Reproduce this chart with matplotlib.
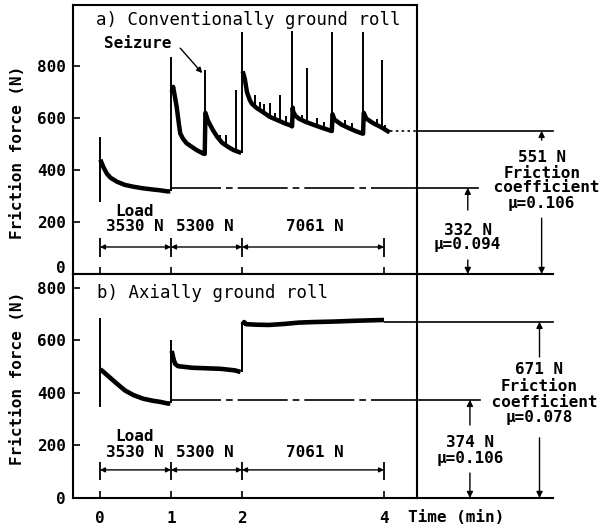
import numpy as np
import matplotlib.pyplot as plt
from matplotlib.transforms import ScaledTranslation

nan = np.nan

# a) conventionally ground roll - smooth part of the friction trace (time min, force N)
# nan separates the three load stages
t_a = [0.005, 0.05, 0.1, 0.15, 0.24, 0.35, 0.47, 0.6, 0.75, 0.85, 0.95, 0.99, nan,
       1.01, 1.03, 1.05, 1.08, 1.11, 1.13, 1.17, 1.22, 1.3, 1.36, 1.45, 1.475,
       1.485, 1.52, 1.59, 1.65, 1.72, 1.8, 1.88, 1.95, 1.99, nan,
       2.01, 2.02, 2.04, 2.07, 2.11, 2.14, 2.2, 2.25, 2.3, 2.39, 2.44, 2.5, 2.6, 2.7, 2.705,
       2.715, 2.72, 2.75, 2.8, 2.9, 3.0, 3.1, 3.2, 3.265, 3.275, 3.3, 3.4, 3.5, 3.6, 3.7, 3.705,
       3.715, 3.75, 3.85, 3.96, 4.05, 4.08]
f_a = [440, 410, 385, 370, 355, 343, 336, 330, 325, 322, 318, 318, nan,
       700, 720, 690, 643, 580, 541, 520, 503, 488, 477, 464, 462,
       620, 590, 554, 528, 505, 490, 477, 470, 466, nan,
       780, 770, 750, 700, 669, 655, 640, 631, 622, 605, 599, 592, 580, 570, 568,
       640, 625, 610, 598, 585, 575, 565, 556, 550, 615, 595, 575, 562, 550, 540, 540,
       620, 598, 580, 565, 550, 545]

# spikes: time, lower end, upper end (N)
spike_t_a = [0.0, 1.0, 1.48, 1.69, 1.78, 1.92, 2.0, 2.18, 2.25, 2.31, 2.40, 2.47, 2.54,
             2.62, 2.71, 2.85, 2.91, 3.05, 3.15, 3.27, 3.45, 3.55, 3.71, 3.9, 3.97, 4.02]
spike_lo_a = [277, 318, 462, 505, 490, 470, 465, 645, 631, 620, 603, 595, 586,
              580, 568, 588, 583, 572, 560, 550, 568, 557, 540, 572, 562, 552]
spike_hi_a = [527, 836, 785, 535, 535, 708, 932, 690, 660, 655, 657, 620, 688,
              608, 936, 612, 791, 600, 585, 932, 592, 580, 932, 597, 823, 575]

# b) axially ground roll
t_b = [0.005, 0.05, 0.1, 0.24, 0.35, 0.47, 0.61, 0.75, 0.85, 0.95, 0.99, nan,
       1.01, 1.02, 1.04, 1.06, 1.1, 1.3, 1.5, 1.7, 1.9, 1.98, nan,
       2.01, 2.03, 2.06, 2.2, 2.38, 2.6, 2.8, 3.0, 3.3, 3.6, 4.0]
f_b = [490, 480, 468, 435, 410, 392, 378, 370, 366, 360, 360, nan,
       560, 548, 525, 510, 502, 496, 494, 492, 486, 480, nan,
       660, 670, 662, 660, 659, 663, 668, 670, 672, 675, 678]
spike_t_b = [0.0, 1.0, 2.0]
spike_lo_b = [348, 360, 480]
spike_hi_b = [685, 602, 672]

load_edges = [0, 1, 2, 4]
load_labels = ["3530 N", "5300 N", "7061 N"]
xticks = [0, 1, 2, 4]
yticks = [0, 200, 400, 600, 800]

levels_a = [332, 551]
mu_a = ["0.094", "0.106"]
levels_b = [374, 671]
mu_b = ["0.106", "0.078"]

plt.rcParams['font.family'] = 'DejaVu Sans Mono'
plt.rcParams['font.weight'] = 'bold'
plt.rcParams['font.size'] = 11.5

fig = plt.figure(figsize=(6.13, 5.29), dpi=100)
ax1 = fig.add_axes([0.1191, 0.4820, 0.5612, 0.5085])
ax2 = fig.add_axes([0.1191, 0.0586, 0.5612, 0.4234])

X_RIGHT = 4.465
for ax, top in ((ax1, 1035), (ax2, 853)):
    ax.set_xlim(-0.38, X_RIGHT)
    ax.set_ylim(0, top)
    ax.set_xticks(xticks)
    ax.set_yticks(yticks)
    ax.tick_params(direction='in', length=5, width=1.2, pad=5, labelsize=11.5)
    for s in ax.spines.values():
        s.set_linewidth(1.5)
ax1.set_xticklabels([])
ax2.set_xticklabels([str(x) for x in xticks])
ax2.tick_params(axis='x', pad=9)

# the "0" of the upper panel sits a little higher in the original
lbl0 = ax1.get_yticklabels()[0]
lbl0.set_transform(lbl0.get_transform() + ScaledTranslation(0, 0.07, fig.dpi_scale_trans))

ax1.plot(t_a, f_a, color='k', lw=3.2, solid_joinstyle='round', solid_capstyle='butt')
ax1.vlines(spike_t_a, spike_lo_a, spike_hi_a, color='k', lw=1.4)
ax2.plot(t_b, f_b, color='k', lw=3.3, solid_joinstyle='round', solid_capstyle='butt')
ax2.vlines(spike_t_b, spike_lo_b, spike_hi_b, color='k', lw=1.4)

arrow = dict(arrowstyle='-|>', color='k', lw=1.0, mutation_scale=9,
             shrinkA=0, shrinkB=0)
arrow2 = dict(arrowstyle='<|-|>', color='k', lw=1.0, mutation_scale=7,
              shrinkA=0, shrinkB=0)


def load_bar(ax, ybar, ylo, yhi, ytxt):
    for i in range(3):
        ax.annotate('', xy=(load_edges[i + 1], ybar), xytext=(load_edges[i], ybar),
                    arrowprops=arrow2)
    ax.vlines(load_edges, ylo, yhi, color='k', lw=1.3)
    ax.text(0.49, ytxt + 58, 'Load', ha='center', va='center')
    mids = [0.49, 1.48, 3.02]
    for m, lab in zip(mids, load_labels):
        ax.text(m, ytxt, lab, ha='center', va='center')


load_bar(ax1, 104, 65, 138, 181)
load_bar(ax2, 107, 69, 137, 175)


def level_line(ax, t0, t1, y, x_end, dotted):
    ax.plot([t0, t1], [y, y], color='k', lw=1.2,
            dashes=(1.5, 2) if dotted else (30, 3, 4, 3))
    ax.plot([X_RIGHT, x_end], [y, y], color='k', lw=1.2, clip_on=False)


# a) reference levels
level_line(ax1, 1.0, X_RIGHT, levels_a[0], 5.32, False)
level_line(ax1, 4.08, X_RIGHT, levels_a[1], 6.38, True)
ax1.plot([X_RIGHT, 6.38], [0, 0], color='k', lw=1.5, clip_on=False)

# b) reference levels
level_line(ax2, 1.0, X_RIGHT, levels_b[0], 5.35, False)
level_line(ax2, 4.0, X_RIGHT, levels_b[1], 6.38, False)
ax2.plot([X_RIGHT, 6.38], [0, 0], color='k', lw=1.5, clip_on=False)


def mu_note(ax, x, level, up_from, down_from, texts_y, texts):
    ax.annotate('', xy=(x, level), xytext=(x, up_from), arrowprops=arrow,
                annotation_clip=False)
    ax.annotate('', xy=(x, 0), xytext=(x, down_from), arrowprops=arrow,
                annotation_clip=False)
    for ty, tx in zip(texts_y, texts):
        ax.text(x, ty, tx, ha='center', va='center', clip_on=False)


mu_note(ax1, 5.18, levels_a[0], 246, 54, [169, 112],
        [f"{levels_a[0]} N", f"µ={mu_a[0]}"])
mu_note(ax1, 6.22, levels_a[1], 515, 215, [450, 388, 331, 273],
        [f"{levels_a[1]} N", "Friction", " coefficient", f"µ={mu_a[1]}"])
mu_note(ax2, 5.21, levels_b[0], 278, 95, [213, 152],
        [f"{levels_b[0]} N", f"µ={mu_b[0]}"])
mu_note(ax2, 6.19, levels_b[1], 537, 229, [488, 423, 362, 305],
        [f"{levels_b[1]} N", "Friction", " coefficient", f"µ={mu_b[1]}"])

# titles and labels
ax1.text(-0.05, 977, "a) Conventionally ground roll", fontweight='normal',
         fontsize=12.5, va='center')
ax2.text(-0.04, 781, "b) Axially ground roll", fontweight='normal',
         fontsize=12.5, va='center')
ax1.text(0.535, 888, "Seizure", ha='center', va='center')
ax1.annotate('', xy=(1.44, 773), xytext=(1.13, 869),
             arrowprops=dict(arrowstyle='-|>', color='k', lw=1.0, mutation_scale=8,
                             shrinkA=0, shrinkB=0))

fig.text(18 / 613, 1 - 152 / 529, "Friction force (N)", rotation=90,
         ha='center', va='center')
fig.text(18 / 613, 1 - 378 / 529, "Friction force (N)", rotation=90,
         ha='center', va='center')
fig.text(408 / 613, 1 - 517 / 529, "Time (min)", ha='left', va='center')

fig.savefig("out.png", dpi=100)
